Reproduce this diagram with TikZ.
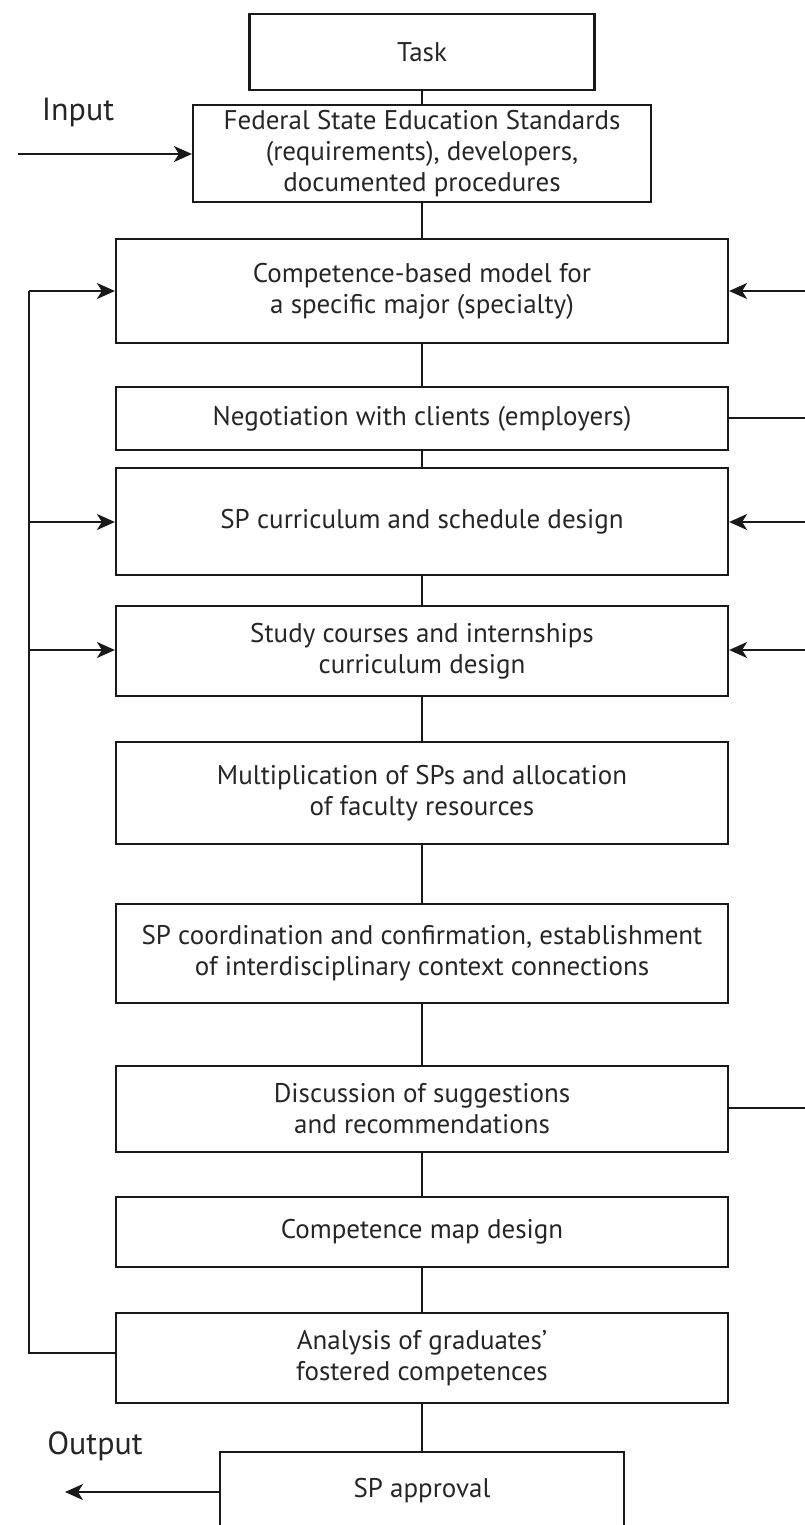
\documentclass[tikz,border=0pt]{standalone}
\usepackage{fontspec}
\setmainfont{PT Sans}
\usetikzlibrary{arrows.meta}
\begin{document}
\begin{tikzpicture}[x=1pt,y=-1pt,
  box/.style={draw=black!90,line width=2.2pt,rectangle,inner sep=0pt,align=center,
    text=black!85,font=\fontsize{27}{31}\selectfont},
  conn/.style={draw=black!90,line width=2pt},
  arr/.style={conn,-{Stealth[length=18pt,width=16pt,inset=5pt]}},
  lbl/.style={inner sep=0pt,text=black!85,font=\fontsize{32}{36}\selectfont}]
\useasboundingbox (0,0) rectangle (805,1525);
\clip (0,0) rectangle (805,1525);
\node[box,minimum width=345pt,minimum height=76pt] (task) at (422,52) {Task};
\node[box,minimum width=458pt,minimum height=97pt] (fed) at (422,153.5)
  {Federal State Education Standards\\(requirements), developers,\\documented procedures};
\node[box,minimum width=612pt,minimum height=104pt] (comp) at (422,291)
  {Competence-based model for\\a specific major (specialty)};
\node[box,minimum width=612pt,minimum height=63pt] (neg) at (422,418.5)
  {Negotiation with clients (employers)};
\node[box,minimum width=612pt,minimum height=107pt] (spc) at (422,521.5)
  {SP curriculum and schedule design};
\node[box,minimum width=612pt,minimum height=90pt] (study) at (422,651)
  {Study courses and internships\\curriculum design};
\node[box,minimum width=612pt,minimum height=102pt] (mult) at (422,793)
  {Multiplication of SPs and allocation\\of faculty resources};
\node[box,minimum width=612pt,minimum height=99pt] (coord) at (422,953.5)
  {SP coordination and confirmation, establishment\\of interdisciplinary context connections};
\node[box,minimum width=612pt,minimum height=86pt] (disc) at (422,1109)
  {Discussion of suggestions\\and recommendations};
\node[box,minimum width=612pt,minimum height=70pt] (map) at (422,1232)
  {Competence map design};
\node[box,minimum width=612pt,minimum height=90pt] (anal) at (422,1358)
  {Analysis of graduates'\\fostered competences};
\node[box,minimum width=404pt,minimum height=78pt] (appr) at (422,1491)
  {SP approval};
\node[lbl] (input) at (78,113) {Input};
\node[lbl] (output) at (95,1446) {Output};
% vertical chain
\draw[conn] (task) -- (fed);
\draw[conn] (fed) -- (comp);
\draw[conn] (comp) -- (neg);
\draw[conn] (neg) -- (spc);
\draw[conn] (spc) -- (study);
\draw[conn] (study) -- (mult);
\draw[conn] (mult) -- (coord);
\draw[conn] (coord) -- (disc);
\draw[conn] (disc) -- (map);
\draw[conn] (map) -- (anal);
\draw[conn] (anal) -- (appr);
% input / output
\coordinate (inS) at (18,154);
\coordinate (outE) at (65,1492);
\draw[arr] (inS) -- (fed.west |- inS);
\draw[arr] (appr.west |- outE) -- (outE);
% left feedback
\coordinate (fbB) at (29,1353);
\coordinate (fbT) at (29,291);
\coordinate (fbM1) at (29,522);
\coordinate (fbM2) at (29,650);
\draw[conn] (anal.west |- fbB) -- (fbB) -- (fbT);
\draw[arr] (fbT) -- (comp.west |- fbT);
\draw[arr] (fbM1) -- (spc.west |- fbM1);
\draw[arr] (fbM2) -- (study.west |- fbM2);
% right side
\coordinate (r1) at (805,291);
\coordinate (r2) at (805,418);
\coordinate (r3) at (805,522);
\coordinate (r4) at (805,650);
\coordinate (r5) at (805,1108);
\draw[arr] (r1) -- (comp.east |- r1);
\draw[conn] (neg.east |- r2) -- (r2);
\draw[arr] (r3) -- (spc.east |- r3);
\draw[arr] (r4) -- (study.east |- r4);
\draw[conn] (disc.east |- r5) -- (r5);
\end{tikzpicture}
\end{document}
